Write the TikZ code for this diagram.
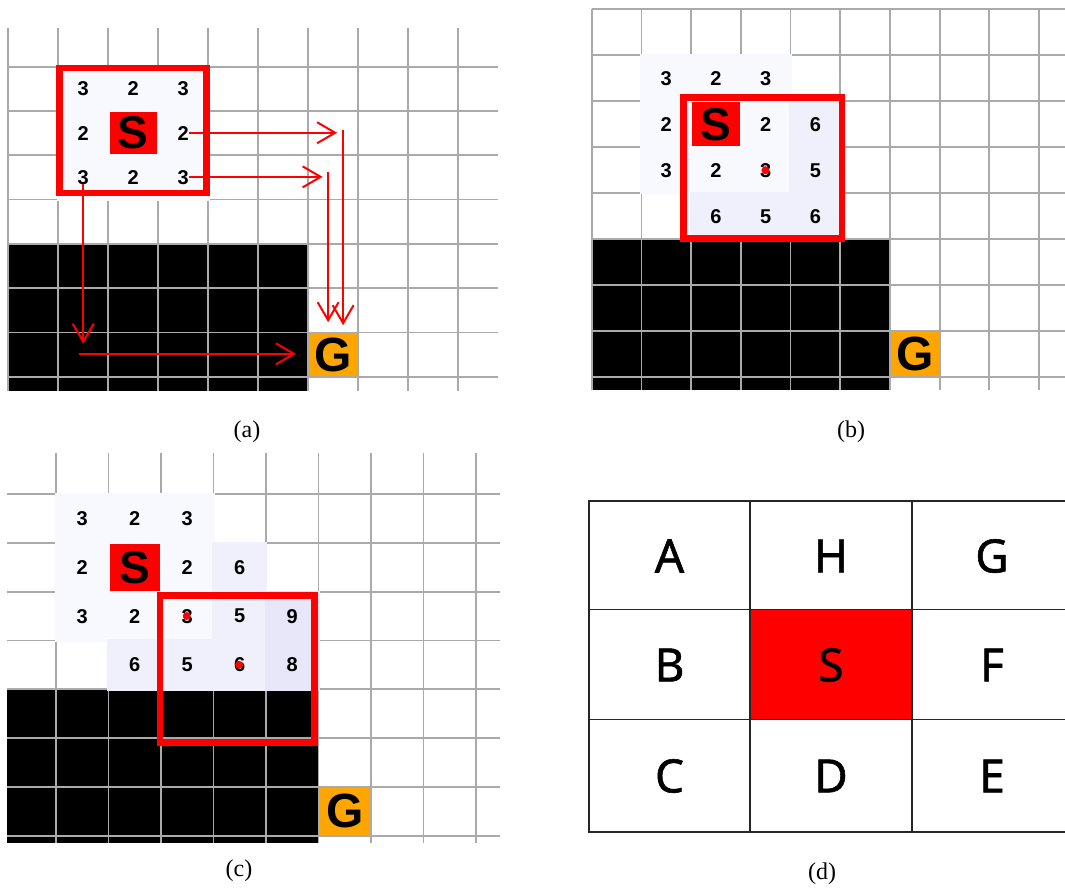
\documentclass[tikz,border=0pt]{standalone}
\usepackage{fontspec}
\setmainfont{Liberation Serif}
\newfontfamily\cellfont{Liberation Sans}
\newfontfamily\tablefont[FakeBold=1.2]{Noto Sans}
\usetikzlibrary{arrows.meta}

\definecolor{gridgray}{RGB}{170,170,170}
\definecolor{goalorange}{RGB}{255,165,0}
\definecolor{tintlow}{RGB}{248,248,255}
\definecolor{tintmid}{RGB}{240,240,252}
\definecolor{tinthigh}{RGB}{231,231,249}

\begin{document}
\begin{tikzpicture}[x=1pt,y=-1pt,
  gridline/.style={draw=gridgray,line width=1.8pt},
  num/.style={font=\cellfont\bfseries\fontsize{20}{20}\selectfont,inner sep=0pt},
  startcell/.style={font=\cellfont\bfseries\fontsize{46}{46}\selectfont,inner sep=0pt},
  goalcell/.style={font=\cellfont\bfseries\fontsize{48}{48}\selectfont,inner sep=0pt,fill=goalorange},
  window/.style={draw=red,line width=6.5pt},
  route/.style={draw=red,line width=2pt,-{Straight Barb[length=18pt,width=21pt]}},
  visited/.style={circle,fill=red,inner sep=0pt,minimum size=8pt},
  tableline/.style={draw=black!85,line width=1.8pt},
  letter/.style={font=\tablefont\fontsize{46}{46}\selectfont,inner sep=0pt},
  caption/.style={font=\fontsize{24}{24}\selectfont,inner sep=0pt}]
\useasboundingbox (0,0) rectangle (1065,893);
\fill[white] (0,0) rectangle (1065,893);

% (a) first window and the three routes
\begin{scope}[shift={(8.3,22.4)},xscale=50,yscale=44.3]
\fill (0,5) rectangle (6,8.33);
\node[goalcell,minimum width=50pt,minimum height=44.3pt] (aG) at (6.5,7.5) {G};
\fill[red] (2,2) rectangle (3,3);
\foreach \c in {0,...,9} \draw[gridline] (\c,0.13) -- (\c,8.33);
\foreach \r in {1,...,8} \draw[gridline] (0,\r) -- (9.8,\r);
\foreach \c/\r/\v/\t in {1/1/3/tintlow,2/1/2/tintlow,3/1/3/tintlow,1/2/2/tintlow,3/2/2/tintlow,1/3/3/tintlow,2/3/2/tintlow,3/3/3/tintlow} {
  \fill[\t] (\c-0.025,\r-0.025) rectangle (\c+1.025,\r+1.025);
  \node[num] (a\c\r) at (\c+0.5,\r+0.5) {\v};
}
\node[startcell] (aS) at (2.5,2.5) {S};
\draw[window] (1.02,1.03) rectangle (3.96,3.85);
\coordinate (a1end) at (6.58,2.5);
\coordinate (a1top) at (6.70,2.44);
\coordinate (a2end) at (6.29,3.5);
\coordinate (a2top) at (6.40,3.39);
\coordinate (a3turn) at (1.5,7.28);
\coordinate (a3low) at (1.42,7.51);
\draw[route] (a32.east) -- (a1end);
\draw[route,shorten >=6pt] (a1top) -- (a1top |- aG.north);
\draw[route] (a33.east) -- (a2end);
\draw[route,shorten >=9pt] (a2top) -- (a2top |- aG.north);
\draw[route] (a13.south) -- (a3turn);
\draw[route,shorten >=12pt] (a3low) -- (a3low -| aG.west);
\end{scope}
\node[caption] (capa) at (247,432) {(a)};

% (b) window moved to the next cell
\begin{scope}[shift={(591.7,9.3)},xscale=49.7,yscale=46]
\fill (0,5) rectangle (6,8.28);
\node[goalcell,minimum width=49.7pt,minimum height=46pt] (bG) at (6.5,7.5) {G};
\fill[red] (2,2) rectangle (3,3);
\foreach \c in {0,...,9} \draw[gridline] (\c,0) -- (\c,8.28);
\foreach \r in {0,...,8} \draw[gridline] (0,\r) -- (9.52,\r);
\foreach \c/\r/\v/\t in {1/1/3/tintlow,2/1/2/tintlow,3/1/3/tintlow,1/2/2/tintlow,3/2/2/tintlow,4/2/6/tintmid,1/3/3/tintlow,2/3/2/tintlow,3/3/3/tintlow,4/3/5/tintmid,2/4/6/tintmid,3/4/5/tintmid,4/4/6/tintmid} {
  \fill[\t] (\c-0.025,\r-0.025) rectangle (\c+1.025,\r+1.025);
  \node[num] (b\c\r) at (\c+0.5,\r+0.5) {\v};
}
\node[startcell] (bS) at (2.5,2.5) {S};
\node[visited] (bdot) at (b33) {};
\draw[window] (1.85,1.92) rectangle (5.04,4.98);
\end{scope}
\node[caption] (capb) at (851,432) {(b)};

% (c) window reaching the wall
\begin{scope}[shift={(3.5,445.5)},xscale=52.5,yscale=48.77]
\fill (0.07,5) rectangle (6,8.15);
\node[goalcell,minimum width=52.5pt,minimum height=48.77pt] (cG) at (6.5,7.5) {G};
\fill[red] (2,2) rectangle (3,3);
\foreach \c in {1,...,9} \draw[gridline] (\c,0.15) -- (\c,8.15);
\foreach \r in {1,...,8} \draw[gridline] (0.07,\r) -- (9.46,\r);
\foreach \c/\r/\v/\t in {1/1/3/tintlow,2/1/2/tintlow,3/1/3/tintlow,1/2/2/tintlow,3/2/2/tintlow,4/2/6/tintmid,1/3/3/tintlow,2/3/2/tintlow,3/3/3/tintlow,4/3/5/tintmid,5/3/9/tinthigh,2/4/6/tintmid,3/4/5/tintmid,4/4/6/tintmid,5/4/8/tinthigh} {
  \fill[\t] (\c-0.025,\r-0.025) rectangle (\c+1.025,\r+1.025);
  \node[num] (c\c\r) at (\c+0.5,\r+0.5) {\v};
}
\node[startcell] (cS) at (2.5,2.5) {S};
\node[visited] (cdot1) at (c33) {};
\node[visited] (cdot2) at (c44) {};
\draw[window] (2.98,3.08) rectangle (5.92,6.09);
\end{scope}
\node[caption] (capc) at (239,871) {(c)};

% (d) neighbour labels
\fill[red] (750,609.5) rectangle (911.7,719.5);
\draw[tableline] (1065,501) -- (589,501) -- (589,832) -- (1065,832);
\draw[tableline] (750,501) -- (750,832);
\draw[tableline] (911.7,501) -- (911.7,832);
\draw[tableline] (589,609.5) -- (1065,609.5);
\draw[tableline] (589,719.5) -- (1065,719.5);
\foreach \x/\y/\l in {669.5/556/A,831/556/H,992/556/G,669.5/665/B,831/665/S,992/665/F,669.5/776/C,831/776/D,992/776/E}
  \node[letter] (d\l) at (\x,\y) {\l};
\node[caption] (capd) at (822,874) {(d)};
\end{tikzpicture}
\end{document}
